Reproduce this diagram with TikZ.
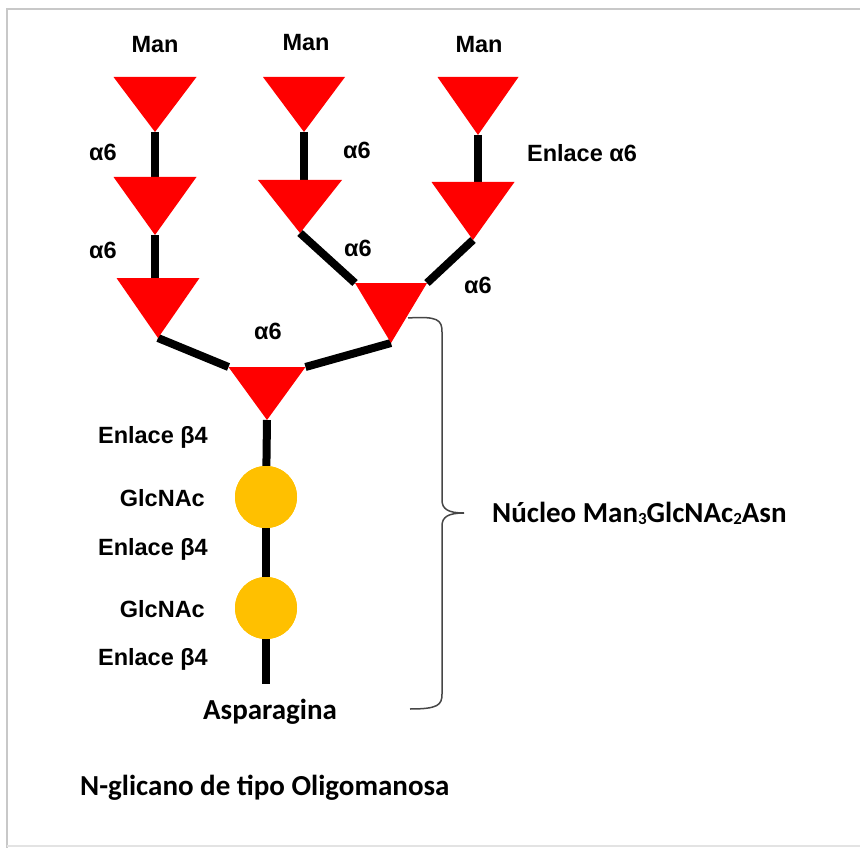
\documentclass[tikz,border=0pt]{standalone}
\usepackage{fontspec}
\setmainfont{Liberation Sans}
\newfontfamily\calfont{Carlito}
\definecolor{mred}{RGB}{255,0,0}
\definecolor{gold}{RGB}{255,192,0}
\definecolor{framegray}{RGB}{200,200,200}
\definecolor{bracegray}{RGB}{70,70,70}
\tikzset{
  bond/.style={line width=8pt},
  lbl/.style={font=\fontsize{23.5}{25}\selectfont\bfseries, inner sep=0pt},
  clbl/.style={font=\calfont\fontsize{29}{31}\selectfont\bfseries, inner sep=0pt},
  glc/.style={circle, fill=gold, minimum size=62pt, inner sep=0pt},
}
\newcommand\mtri[5]{%
  \coordinate (#1-l) at (#2-#4/2,#3);
  \coordinate (#1-r) at (#2+#4/2,#3);
  \coordinate (#1-t) at (#2,#3);
  \coordinate (#1-a) at (#2,#3+#5);
}
\newcommand\filltri[1]{\fill[mred] (#1-l) -- (#1-r) -- (#1-a) -- cycle;}
\newcommand\subd[1]{{\fontsize{17}{17}\selectfont\raisebox{-2pt}{#1}}}
\begin{document}
\begin{tikzpicture}[x=1pt,y=-1pt]
\useasboundingbox (0,0) rectangle (860,848);
% frame
\draw[framegray, line width=2pt] (7,848) -- (7,9) -- (860,9);
\draw[framegray!50, line width=1.5pt] (7,846) -- (860,846);
% triangles coordinates
\mtri{A1}{155}{77}{83}{55}
\mtri{A2}{155}{177}{83}{58}
\mtri{A3}{158}{278}{83}{60}
\mtri{B1}{304}{77}{82}{55}
\mtri{B2}{300}{180}{84}{53}
\mtri{C1}{478}{77}{81}{58}
\mtri{C2}{473}{182}{83}{58}
\mtri{D}{391}{283}{72}{60}
\mtri{E}{267}{367}{77}{53}
\node[glc] (g1) at (266,497) {};
\node[glc] (g2) at (266,608) {};
\coordinate (asn) at (266,684);
% bonds
\draw[bond] (A1-a) -- (A1-a |- A2-t);
\draw[bond] (A2-a) -- (A2-a |- A3-t);
\draw[bond] (B1-a) -- (B1-a |- B2-t);
\draw[bond] (C1-a) -- (C1-a |- C2-t);
\draw[bond] (B2-a) -- (D-l);
\draw[bond] (C2-a) -- (D-r);
\draw[bond] (A3-a) -- (E-l);
\draw[bond] (D-a) -- (E-r);
\draw[bond] (E-a) -- (g1);
\draw[bond] (g1) -- (g2);
\draw[bond] (g2) -- (asn);
\node[glc] at (g1) {};
\node[glc] at (g2) {};
\filltri{A1}\filltri{A2}\filltri{A3}
\filltri{B1}\filltri{B2}
\filltri{C1}\filltri{C2}
\filltri{D}\filltri{E}
% labels
\node[lbl] (m1) at (155,45) {Man};
\node[lbl] (m2) at (306,43) {Man};
\node[lbl] (m3) at (479,45) {Man};
\node[lbl] (a1) at (103,152) {α6};
\node[lbl] (a2) at (103,250) {α6};
\node[lbl] (a3) at (357,150) {α6};
\node[lbl] (a4) at (358,248) {α6};
\node[lbl] (a5) at (478,285) {α6};
\node[lbl] (a6) at (268,331) {α6};
\node[lbl] (ea) at (582,153) {Enlace α6};
\node[lbl, anchor=east] (b1) at (208,437) {Enlace β4};
\node[lbl, anchor=east] (n1) at (205,498) {GlcNAc};
\node[lbl, anchor=east] (b2) at (208,549) {Enlace β4};
\node[lbl, anchor=east] (n2) at (205,609) {GlcNAc};
\node[lbl, anchor=east] (b3) at (208,659) {Enlace β4};
\node[clbl] (asp) at (270,712) {Asparagina};
\node[clbl, anchor=west] (nuc) at (492,513) {Núcleo Man\subd{3}GlcNAc\subd{2}Asn};
\node[clbl, anchor=west] (tit) at (80,788) {N-glicano de tipo Oligomanosa};
% brace
\coordinate (br1) at (408,318);
\coordinate (br2) at (410,709);
\coordinate (brt) at (464,513);
\draw[bracegray, line width=1.5pt]
  (br1) .. controls (438,316) and (442,320) .. (442,332)
  -- (442,500) .. controls (442,509) and (448,513) .. (brt)
  .. controls (448,513) and (442,517) .. (442,526)
  -- (442,694) .. controls (442,705) and (438,709) .. (br2);
\end{tikzpicture}
\end{document}
